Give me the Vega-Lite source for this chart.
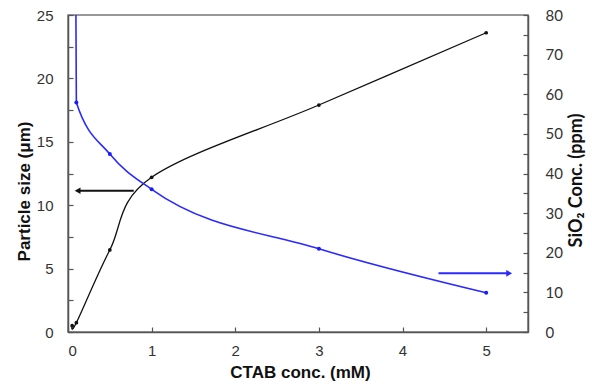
{
  "$schema": "https://vega.github.io/schema/vega-lite/v6.json",
  "width": 460,
  "height": 317,
  "autosize": {"type": "none"},
  "padding": {"left": 68, "top": 15, "right": 64, "bottom": 55},
  "background": "white",
  "config": {
    "view": {"stroke": "#777", "strokeWidth": 1.5},
    "axis": {
      "grid": false,
      "domainColor": "#555",
      "domainWidth": 1.5,
      "tickColor": "#555",
      "tickWidth": 1.2,
      "tickSize": -5,
      "labelColor": "#333",
      "titleColor": "#111",
      "labelFont": "Liberation Sans",
      "titleFont": "Liberation Sans",
      "labelFontSize": 15,
      "titleFontSize": 17,
      "titleFontWeight": "bold"
    }
  },
  "datasets": {
    "sizes": [
      {"ctab": 0.05, "size": 0.5},
      {"ctab": 0.1, "size": 0.73},
      {"ctab": 0.5, "size": 6.47},
      {"ctab": 1, "size": 12.2},
      {"ctab": 3, "size": 17.9},
      {"ctab": 5, "size": 23.6}
    ],
    "sio2": [
      {"ctab": 0.085, "ppm": 120},
      {"ctab": 0.1, "ppm": 57.9},
      {"ctab": 0.5, "ppm": 44.9},
      {"ctab": 1, "ppm": 36.0},
      {"ctab": 3, "ppm": 21.0},
      {"ctab": 5, "ppm": 9.9}
    ],
    "arrows": [
      {"ctab": 0.786, "ctab_end": 0.115, "size": 11.14, "series": "size"},
      {"ctab": 4.43, "ctab_end": 5.275, "size": 4.63, "series": "sio2"}
    ]
  },
  "encoding": {
    "x": {
      "field": "ctab",
      "type": "quantitative",
      "scale": {"domain": [0, 5.5], "nice": false, "zero": false},
      "axis": {
        "values": [0, 1, 2, 3, 4, 5],
        "title": "CTAB conc. (mM)",
        "labelPadding": 16,
        "titleY": 40,
        "titleX": 232,
        "titleBaseline": "middle"
      }
    }
  },
  "layer": [
    {
      "encoding": {
        "y": {
          "field": "size",
          "type": "quantitative",
          "scale": {"domain": [0, 25], "nice": false},
          "axis": {
            "orient": "left",
            "values": [0, 2.5, 5, 7.5, 10, 12.5, 15, 17.5, 20, 22.5, 25],
            "labelExpr": "datum.value % 5 === 0 ? datum.label : ''",
            "labelPadding": 20,
            "title": "Particle size (μm)",
            "titleAngle": -90,
            "titleX": -44,
            "titleY": 176,
            "titleAlign": "center",
            "titleBaseline": "middle"
          }
        }
      },
      "layer": [
        {
          "data": {"name": "sizes"},
          "mark": {"type": "line", "interpolate": "cardinal", "color": "#111", "strokeWidth": 1.3},
          "encoding": {}
        },
        {
          "data": {"name": "sizes"},
          "mark": {"type": "circle", "color": "#111", "size": 14, "opacity": 1},
          "encoding": {}
        },
        {
          "data": {"name": "arrows"},
          "mark": {"type": "rule", "strokeWidth": 2},
          "encoding": {
            "x2": {"field": "ctab_end"},
            "color": {
              "field": "series",
              "type": "nominal",
              "scale": {"domain": ["size", "sio2"], "range": ["#111111", "#2a2aff"]},
              "legend": null
            }
          }
        },
        {
          "data": {"name": "arrows"},
          "mark": {"type": "point", "filled": true, "size": 45, "opacity": 1},
          "encoding": {
            "x": {"field": "ctab_end", "type": "quantitative"},
            "shape": {
              "field": "series",
              "type": "nominal",
              "scale": {"domain": ["size", "sio2"], "range": ["triangle-left", "triangle-right"]},
              "legend": null
            },
            "color": {
              "field": "series",
              "type": "nominal",
              "scale": {"domain": ["size", "sio2"], "range": ["#111111", "#2a2aff"]},
              "legend": null
            }
          }
        }
      ]
    },
    {
      "encoding": {
        "y": {
          "field": "ppm",
          "type": "quantitative",
          "scale": {"domain": [0, 80], "nice": false},
          "axis": {
            "orient": "right",
            "values": [0, 5, 10, 15, 20, 25, 30, 35, 40, 45, 50, 55, 60, 65, 70, 75, 80],
            "labelExpr": "datum.value % 10 === 0 ? datum.label : ''",
            "labelPadding": 22,
            "labelFont": "Lato",
            "labelFontSize": 15,
            "title": "SiO₂ Conc. (ppm)",
            "titleFont": "Lato",
            "titleFontSize": 18,
            "titleAngle": -90,
            "titleX": 48,
            "titleY": 165,
            "titleAlign": "center",
            "titleBaseline": "middle"
          }
        }
      },
      "layer": [
        {
          "data": {"name": "sio2"},
          "mark": {"type": "line", "interpolate": "monotone", "color": "#2a2aff", "strokeWidth": 1.6, "clip": true},
          "encoding": {}
        },
        {
          "data": {"name": "sio2"},
          "transform": [{"filter": "datum.ppm <= 80"}],
          "mark": {"type": "circle", "color": "#1a1aff", "size": 16, "opacity": 1},
          "encoding": {}
        }
      ]
    }
  ],
  "resolve": {"scale": {"y": "independent", "color": "shared", "shape": "shared"}}
}
